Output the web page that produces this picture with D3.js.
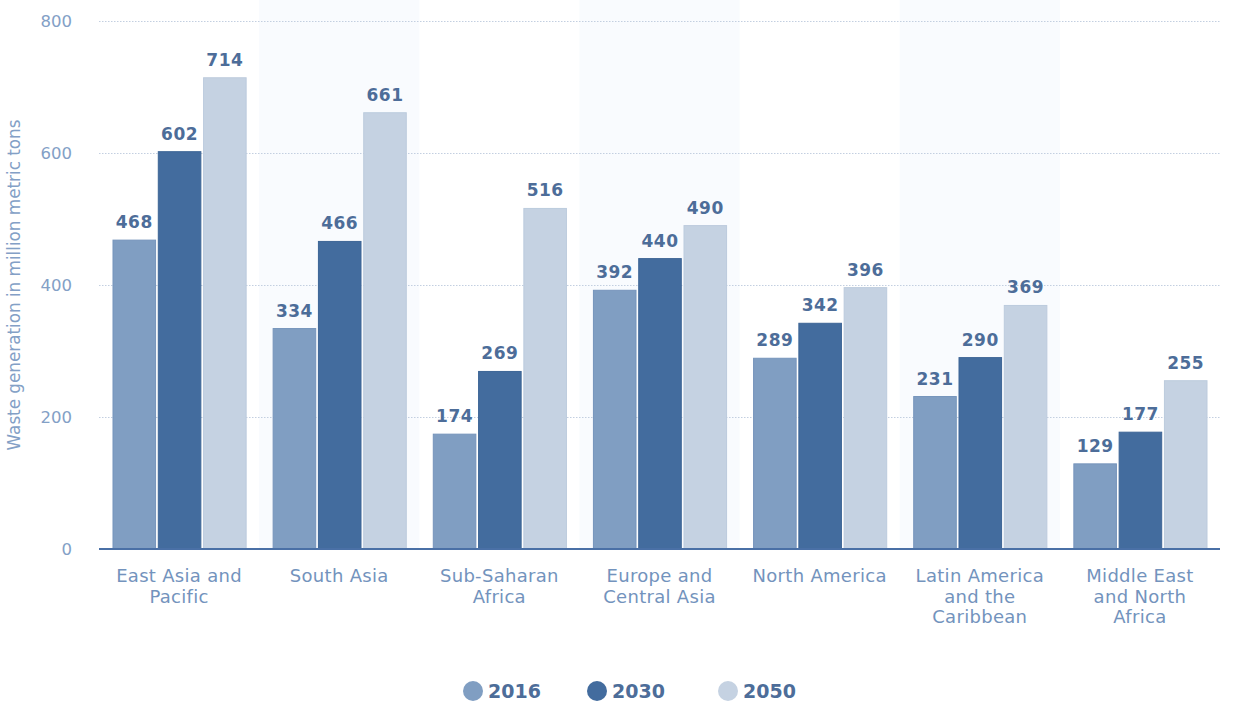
<!DOCTYPE html>
<html>
<head>
<meta charset="utf-8">
<script src="https://cdn.jsdelivr.net/npm/d3@7"></script>
<style>
  body { margin: 0; background: #fff; }
  svg { display: block; font-family: "DejaVu Sans", Verdana, sans-serif; }
</style>
</head>
<body>
<svg id="chart"></svg>
<script>
// categories and values
const regions = ["East Asia and Pacific", "South Asia", "Sub-Saharan Africa", "Europe and Central Asia",
                 "North America", "Latin America and the Caribbean", "Middle East and North Africa"];
const regionLines = [["East Asia and", "Pacific"], ["South Asia"], ["Sub-Saharan", "Africa"],
                     ["Europe and", "Central Asia"], ["North America"], ["Latin America", "and the", "Caribbean"],
                     ["Middle East", "and North", "Africa"]];
const years = ["2016", "2030", "2050"];
const values2016 = [468, 334, 174, 392, 289, 231, 129];
const values2030 = [602, 466, 269, 440, 342, 290, 177];
const values2050 = [714, 661, 516, 490, 396, 369, 255];
const yTicks = [0, 200, 400, 600, 800];

const series = {"2016": values2016, "2030": values2030, "2050": values2050};
const data = regions.map((r, i) => ({region: r, vals: years.map(y => ({year: y, v: series[y][i]}))}));

const width = 1248, height = 706;
const margin = {top: 21, bottom: 157, left: 99, right: 28};

const svg = d3.select("#chart").attr("width", width).attr("height", height);

const x0 = d3.scaleBand().domain(regions).range([margin.left, width - margin.right]);
const x1 = d3.scaleBand().domain(years).range([14, x0.bandwidth() - 13]).paddingInner(0.06);
const y = d3.scaleLinear().domain([0, 800]).range([height - margin.bottom, margin.top]);

const color = d3.scaleOrdinal().domain(years).range(["#809ec2", "#436c9e", "#c5d2e2"]);
const stroke = d3.scaleOrdinal().domain(years).range(["#7594bb", "#3d6596", "#bccbdd"]);

// alternating column backgrounds
svg.append("g").selectAll("rect")
  .data(regions.filter((d, i) => i % 2 === 1))
  .join("rect")
  .attr("x", d => x0(d))
  .attr("y", 0)
  .attr("width", x0.bandwidth())
  .attr("height", y(0))
  .attr("fill", "#f9fbfe");

// grid lines
svg.append("g")
  .attr("transform", `translate(${margin.left},0)`)
  .call(d3.axisLeft(y).tickValues(yTicks.filter(t => t > 0)).tickSize(-(width - margin.left - margin.right)).tickFormat(""))
  .call(g => g.select(".domain").remove())
  .call(g => g.selectAll("line").attr("stroke", "#c3cfe0").attr("stroke-dasharray", "1.5,1.5"));

// y tick labels
svg.append("g").selectAll("text")
  .data(yTicks)
  .join("text")
  .attr("x", 72)
  .attr("y", d => y(d))
  .attr("dy", "0.35em")
  .attr("text-anchor", "end")
  .attr("fill", "#83a0c6")
  .attr("font-size", 16.5)
  .text(d => d);

// y axis title
svg.append("text")
  .attr("transform", `translate(20,285) rotate(-90)`)
  .attr("text-anchor", "middle")
  .attr("fill", "#83a0c6")
  .attr("font-size", 16.8)
  .text("Waste generation in million metric tons");

// bars
const groups = svg.append("g").selectAll("g")
  .data(data)
  .join("g")
  .attr("transform", d => `translate(${x0(d.region)},0)`);

groups.selectAll("rect")
  .data(d => d.vals)
  .join("rect")
  .attr("x", d => x1(d.year))
  .attr("y", d => y(d.v))
  .attr("width", x1.bandwidth())
  .attr("height", d => y(0) - y(d.v))
  .attr("fill", d => color(d.year))
  .attr("stroke", d => stroke(d.year))
  .attr("stroke-width", 1);

groups.selectAll("text")
  .data(d => d.vals)
  .join("text")
  .attr("x", d => x1(d.year) + x1.bandwidth() / 2)
  .attr("y", d => y(d.v) - 12)
  .attr("text-anchor", "middle")
  .attr("fill", "#4d6d99")
  .attr("font-size", 17)
  .attr("font-weight", "bold")
  .attr("letter-spacing", 0.5)
  .text(d => d.v);

// baseline
svg.append("line")
  .attr("x1", margin.left)
  .attr("x2", width - margin.right)
  .attr("y1", y(0))
  .attr("y2", y(0))
  .attr("stroke", "#4a70a6")
  .attr("stroke-width", 2);

// category labels
const cat = svg.append("g").selectAll("text")
  .data(regions)
  .join("text")
  .attr("x", d => x0(d) + x0.bandwidth() / 2)
  .attr("y", 582)
  .attr("text-anchor", "middle")
  .attr("fill", "#7393bd")
  .attr("font-size", 18)
  .attr("letter-spacing", 0.3);

cat.selectAll("tspan")
  .data((d, i) => regionLines[i])
  .join("tspan")
  .attr("x", function() { return this.parentNode.getAttribute("x"); })
  .attr("dy", (d, i) => i === 0 ? 0 : 20.5)
  .text(d => d);

// legend
const legendX = [473, 597, 728];
const legend = svg.append("g").selectAll("g")
  .data(years)
  .join("g")
  .attr("transform", (d, i) => `translate(${legendX[i]},691)`);

legend.append("circle").attr("r", 10).attr("fill", d => color(d));
legend.append("text")
  .attr("x", 15)
  .attr("dy", "0.36em")
  .attr("fill", "#4d6d99")
  .attr("font-size", 19)
  .attr("font-weight", "bold")
  .text(d => d);
</script>
</body>
</html>
